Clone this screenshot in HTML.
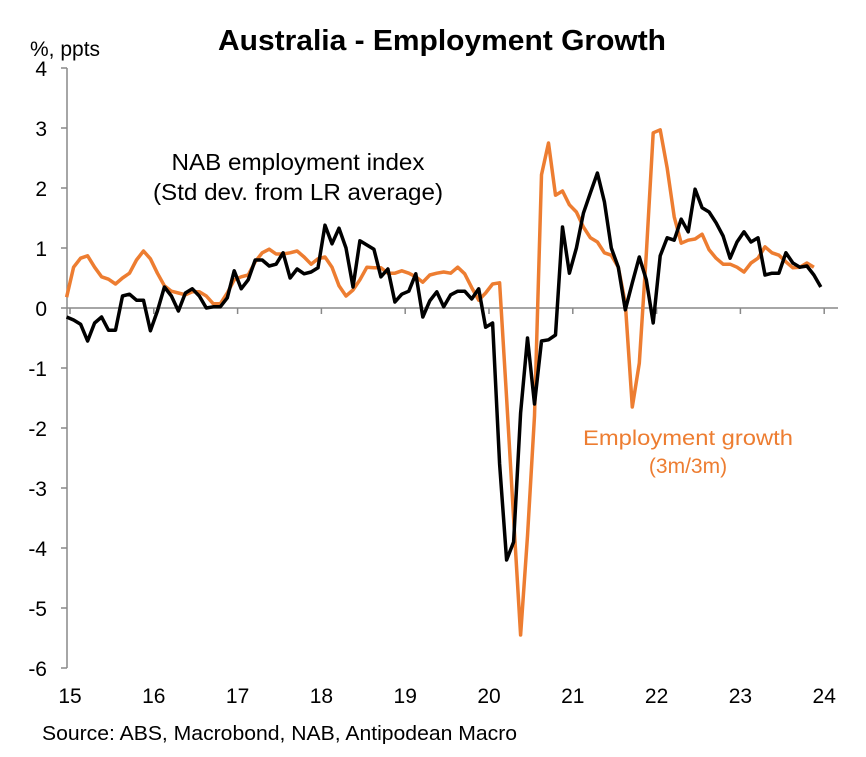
<!DOCTYPE html>
<html><head><meta charset="utf-8"><style>
body{margin:0;background:#fff;}
svg{display:block;font-family:"Liberation Sans",Arial,sans-serif;}
</style></head><body>
<svg id="chart" width="866" height="757">
<text x="442" y="50" text-anchor="middle" font-size="29" font-weight="bold" textLength="448" lengthAdjust="spacingAndGlyphs">Australia - Employment Growth</text>
<text x="30" y="56" font-size="21">%, ppts</text>
<g id="axes"></g>
<g id="series"></g>
<text x="298" y="170" text-anchor="middle" font-size="23" textLength="253" lengthAdjust="spacingAndGlyphs">NAB employment index</text>
<text x="298" y="200" text-anchor="middle" font-size="23" textLength="290" lengthAdjust="spacingAndGlyphs">(Std dev. from LR average)</text>
<text x="688" y="445" text-anchor="middle" font-size="21" fill="#ED7D31" textLength="210" lengthAdjust="spacingAndGlyphs">Employment growth</text>
<text x="688" y="473" text-anchor="middle" font-size="21" fill="#ED7D31">(3m/3m)</text>
<text x="42" y="740" font-size="20" textLength="475" lengthAdjust="spacingAndGlyphs">Source: ABS, Macrobond, NAB, Antipodean Macro</text>
</svg>
<script>
const yTicks=[4,3,2,1,0,-1,-2,-3,-4,-5,-6];
const xTickLabels=["15","16","17","18","19","20","21","22","23","24"];
const nabIndex=[-0.15,-0.2,-0.27,-0.55,-0.25,-0.15,-0.37,-0.37,0.2,0.23,0.13,0.13,-0.38,-0.05,0.35,0.2,-0.05,0.25,0.32,0.2,0,0.02,0.02,0.17,0.62,0.32,0.47,0.8,0.8,0.7,0.73,0.92,0.5,0.65,0.57,0.6,0.67,1.38,1.07,1.33,1.0,0.35,1.12,1.05,0.98,0.52,0.65,0.1,0.23,0.28,0.57,-0.15,0.12,0.27,0.02,0.22,0.28,0.28,0.15,0.32,-0.32,-0.25,-2.6,-4.2,-3.9,-1.75,-0.5,-1.6,-0.55,-0.53,-0.45,1.35,0.58,1.0,1.58,1.92,2.25,1.77,1.0,0.68,-0.03,0.42,0.85,0.47,-0.25,0.87,1.17,1.13,1.48,1.27,1.98,1.67,1.6,1.42,1.2,0.83,1.1,1.27,1.1,1.17,0.55,0.58,0.58,0.92,0.75,0.68,0.7,0.55,0.35];
const empGrowth=[0.18,0.68,0.83,0.87,0.68,0.52,0.48,0.4,0.5,0.58,0.8,0.95,0.82,0.58,0.37,0.28,0.25,0.22,0.27,0.27,0.2,0.07,0.07,0.25,0.47,0.52,0.55,0.77,0.92,0.98,0.9,0.9,0.92,0.95,0.85,0.73,0.82,0.85,0.68,0.37,0.2,0.3,0.47,0.68,0.67,0.67,0.58,0.58,0.62,0.58,0.52,0.43,0.55,0.58,0.6,0.58,0.68,0.57,0.34,0.13,0.25,0.4,0.42,-1.5,-3.5,-5.45,-3.8,-1.8,2.22,2.75,1.88,1.95,1.72,1.6,1.35,1.17,1.1,0.92,0.88,0.68,0.08,-1.65,-0.92,0.9,2.92,2.97,2.33,1.52,1.08,1.13,1.15,1.23,0.97,0.83,0.73,0.73,0.68,0.6,0.75,0.83,1.02,0.92,0.88,0.77,0.67,0.68,0.75,0.68];
const NS="http://www.w3.org/2000/svg";
function yS(v){return 308-v*60;}
function xS(t){return 70+(t-15)*83.8;}
function xIdx(i){return xS(14.96+i/12);}
const axes=document.getElementById('axes');
function mk(tag,attrs,parent){const e=document.createElementNS(NS,tag);for(const k in attrs)e.setAttribute(k,attrs[k]);parent.appendChild(e);return e;}
let l=mk('line',{x1:67,y1:yS(4),x2:67,y2:yS(-6),stroke:'#888','stroke-width':1.5},axes);


yTicks.forEach(v=>{
 const t=mk('line',{x1:61,y1:yS(v),x2:67,y2:yS(v),stroke:'#888','stroke-width':1.5},axes);
 
 
 const tx=mk('text',{x:47,y:yS(v)+8,'text-anchor':'end','font-size':21},axes);
 tx.textContent=v;
 
 
});
let z=mk('line',{x1:67,y1:yS(0),x2:838,y2:yS(0),stroke:'#888','stroke-width':1.5},axes);


xTickLabels.forEach((s,i)=>{
 const x=xS(15+i);
 const t=mk('line',{x1:x,y1:yS(0),x2:x,y2:yS(0)+6,stroke:'#888','stroke-width':1.5},axes);
 
 
 const tx=mk('text',{x:x,y:703,'text-anchor':'middle','font-size':21},axes);
 tx.textContent=s;
 
 
});
const series=document.getElementById('series');
function path(arr){return arr.map((v,i)=>(i?'L':'M')+xIdx(i).toFixed(1)+','+yS(v).toFixed(1)).join('');}
const po=mk('path',{d:path(empGrowth),fill:'none',stroke:'#ED7D31','stroke-width':3.5,'stroke-linejoin':'round'},series);


const pb=mk('path',{d:path(nabIndex),fill:'none',stroke:'#000','stroke-width':3.5,'stroke-linejoin':'round'},series);


</script>
</body></html>
